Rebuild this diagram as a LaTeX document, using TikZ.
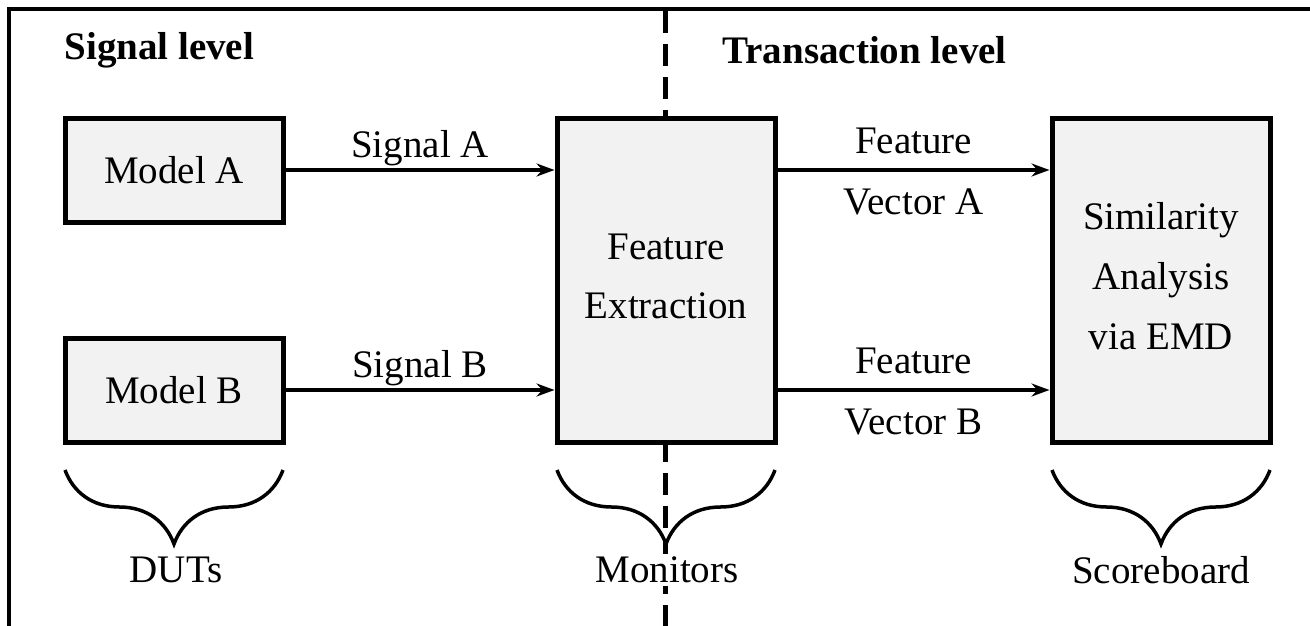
\documentclass[tikz,border=0pt]{standalone}
\usepackage{fontspec}
\setmainfont{Liberation Serif}
\usetikzlibrary{arrows.meta,decorations.pathreplacing}
\begin{document}
\begin{tikzpicture}[x=1pt,y=-1pt,
  font=\fontsize{39}{47}\selectfont,
  blk/.style={draw, line width=5pt, fill=black!5, inner sep=0pt},
  conn/.style={line width=3.5pt, -{Stealth[length=18pt,width=13pt,inset=6pt]}},
  lbl/.style={inner sep=2pt},
  brc/.style={line width=3.5pt, decorate, decoration={brace, amplitude=74pt, mirror}},
  grp/.style={fill=white, inner sep=3pt},
  head/.style={font=\fontsize{39}{47}\selectfont\bfseries, anchor=west}]
\useasboundingbox (0,0) rectangle (1310,626);
% frame and divider
\draw[line width=4pt] (9,626) -- (9,9) -- (1310,9);
\draw[line width=5pt, dash pattern=on 22pt off 11pt] (665,11) -- (665,626);
% headings
\node[head] (sl) at (61,50) {Signal level};
\node[head] (tl) at (719,50) {Transaction level};
% blocks
\node[blk, minimum width=218pt, minimum height=104pt] (ma) at (174,170) {Model A};
\node[blk, minimum width=218pt, minimum height=104pt] (mb) at (174,390) {Model B};
\node[blk, minimum width=218pt, minimum height=324pt, align=center] (fe) at (666,280) {\raisebox{8pt}{Feature}\\[12pt]\raisebox{8pt}{Extraction}};
\node[blk, minimum width=218pt, minimum height=324pt, align=center] (sa) at (1161,280) {\raisebox{8pt}{Similarity}\\[13pt]\raisebox{8pt}{Analysis}\\[13pt]\raisebox{8pt}{via EMD}};
% connectors
\draw[conn] (ma.east) -- node[lbl, above] {Signal A} (ma.east -| fe.west);
\draw[conn] (mb.east) -- node[lbl, above] {Signal B} (mb.east -| fe.west);
\draw[conn] (ma.east -| fe.east) -- node[lbl, above, yshift=12pt] {Feature} node[lbl, below, yshift=-15pt] {Vector A} (ma.east -| sa.west);
\draw[conn] (mb.east -| fe.east) -- node[lbl, above, yshift=12pt] {Feature} node[lbl, below, yshift=-15pt] {Vector B} (mb.east -| sa.west);
% braces
\coordinate (b1l) at (65,470); \coordinate (b1r) at (283,470);
\coordinate (b2l) at (557,470); \coordinate (b2r) at (775,470);
\coordinate (b3l) at (1052,470); \coordinate (b3r) at (1270,470);
\draw[brc] (b1l) -- (b1r);
\draw[brc] (b2l) -- (b2r);
\draw[brc] (b3l) -- (b3r);
\node[grp] (duts) at (176,570) {DUTs};
\node[grp] (mon) at (667,570) {Monitors};
\node[grp] (sco) at (1161,570) {Scoreboard};
\end{tikzpicture}
\end{document}
